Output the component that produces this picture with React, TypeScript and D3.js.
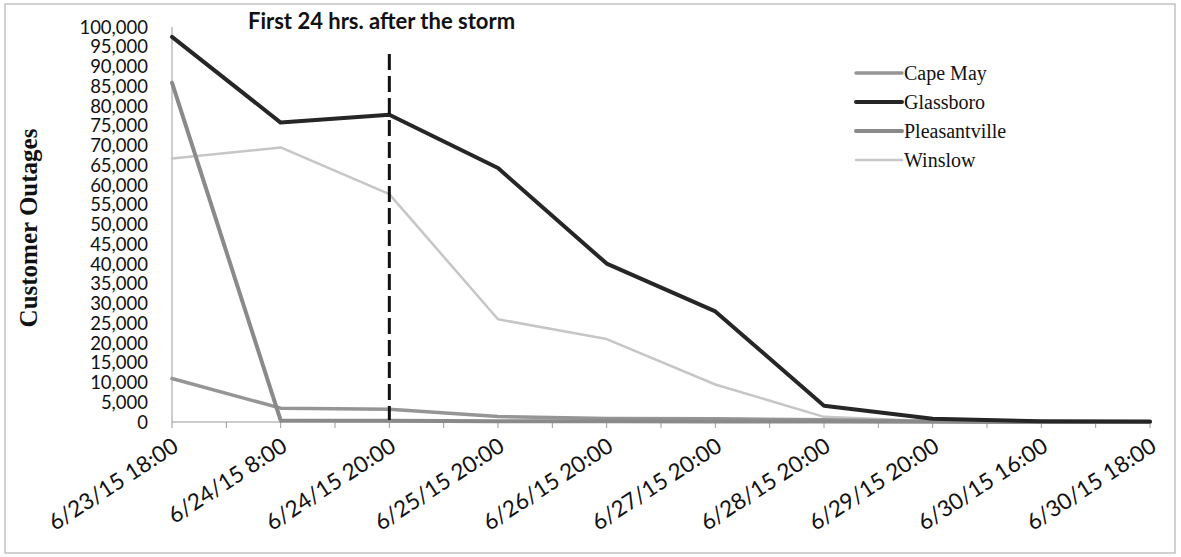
import React from "react";
import * as d3 from "d3";

const categories = [
  "6/23/15 18:00",
  "6/24/15 8:00",
  "6/24/15 20:00",
  "6/25/15 20:00",
  "6/26/15 20:00",
  "6/27/15 20:00",
  "6/28/15 20:00",
  "6/29/15 20:00",
  "6/30/15 16:00",
  "6/30/15 18:00",
];

const capeMay = [11000, 3500, 3200, 1400, 900, 800, 600, 200, 50, 0];
const glassboro = [97500, 75800, 77800, 64300, 40100, 28000, 4100, 800, 200, 100];
const pleasantville = [85900, 400, 300, 200, 200, 150, 100, 50, 0, 0];
const winslow = [66700, 69500, 57700, 26000, 21000, 9500, 1300, 200, 50, 0];

const seriesNames = ["Cape May", "Glassboro", "Pleasantville", "Winslow"];
const yTicks = d3.range(0, 100001, 5000);
const annotation = "First 24 hrs. after the storm";
const annotationCategory = "6/24/15 20:00";
const yTitle = "Customer Outages";

const W = 1181;
const H = 557;
const left = 172;
const right = 1150;
const top = 27;
const bottom = 422;

export default function App() {
  const x = d3.scalePoint<string>().domain(categories).range([left, right]);
  const y = d3.scaleLinear().domain([0, 100000]).range([bottom, top]);
  const step = x.step();

  const series = [
    { name: seriesNames[0], values: capeMay, color: "#959595", width: 3.5 },
    { name: seriesNames[1], values: glassboro, color: "#262626", width: 4 },
    { name: seriesNames[2], values: pleasantville, color: "#8a8a8a", width: 4 },
    { name: seriesNames[3], values: winslow, color: "#c6c6c6", width: 2.5 },
  ];
  const drawOrder = [series[3], series[0], series[2], series[1]];

  const line = d3
    .line<number>()
    .x((_, i) => x(categories[i]) as number)
    .y((d) => y(d));

  const tickXs: number[] = [];
  categories.forEach((c, i) => {
    const px = x(c) as number;
    tickXs.push(px);
    if (i < categories.length - 1) tickXs.push(px + step / 2);
  });

  const fmt = d3.format(",");
  const dashX = x(annotationCategory) as number;

  return (
    <svg
      width={W}
      height={H}
      style={{ position: "absolute", left: 0, top: 0, background: "#fff" }}
    >
      <rect x={5} y={4} width={1170} height={549} fill="none" stroke="#b5b5b5" strokeWidth={1.2} />

      {/* y axis title */}
      <text
        transform={`translate(37,228) rotate(-90)`}
        textAnchor="middle"
        fontFamily="'Liberation Serif', serif"
        fontWeight="bold"
        fontSize={25}
        fill="#111"
      >
        {yTitle}
      </text>

      {/* y tick labels */}
      {yTicks.map((t) => (
        <text
          key={t}
          x={148}
          y={y(t)}
          dy="0.36em"
          textAnchor="end"
          fontFamily="Lato, sans-serif"
          fontSize={18.5}
          fill="#111"
        >
          {fmt(t)}
        </text>
      ))}

      {/* axes */}
      <line x1={left} x2={left} y1={top} y2={bottom} stroke="#9a9a9a" strokeWidth={1} />
      <line x1={left} x2={right} y1={bottom} y2={bottom} stroke="#9a9a9a" strokeWidth={1} />
      {tickXs.map((tx, i) => (
        <line key={i} x1={tx} x2={tx} y1={bottom} y2={bottom + 6} stroke="#9a9a9a" strokeWidth={1} />
      ))}

      {/* x labels */}
      {categories.map((c) => (
        <text
          key={c}
          transform={`translate(${(x(c) as number) + 8},${450}) rotate(-33)`}
          textAnchor="end"
          fontFamily="Lato, sans-serif"
          fontSize={22.5}
          fill="#111"
        >
          {c}
        </text>
      ))}

      {/* series */}
      {drawOrder.map((s) => (
        <path
          key={s.name}
          d={line(s.values) as string}
          fill="none"
          stroke={s.color}
          strokeWidth={s.width}
          strokeLinejoin="round"
          strokeLinecap="round"
        />
      ))}

      {/* dashed annotation line */}
      <line
        x1={dashX}
        x2={dashX}
        y1={54}
        y2={bottom - 2}
        stroke="#111"
        strokeWidth={3}
        strokeDasharray="16,6"
      />
      <text
        x={248}
        y={29}
        fontFamily="Lato, sans-serif"
        fontWeight="bold"
        fontSize={22}
        fill="#111"
      >
        {annotation}
      </text>

      {/* legend */}
      {series.map((s, i) => {
        const ly = 73 + i * 29;
        return (
          <g key={s.name}>
            <line x1={856} x2={902} y1={ly} y2={ly} stroke={s.color} strokeWidth={s.width} strokeLinecap="round" />
            <text
              x={904}
              y={ly}
              dy="0.33em"
              fontFamily="'Liberation Serif', serif"
              fontSize={20}
              fill="#111"
            >
              {s.name}
            </text>
          </g>
        );
      })}
    </svg>
  );
}
